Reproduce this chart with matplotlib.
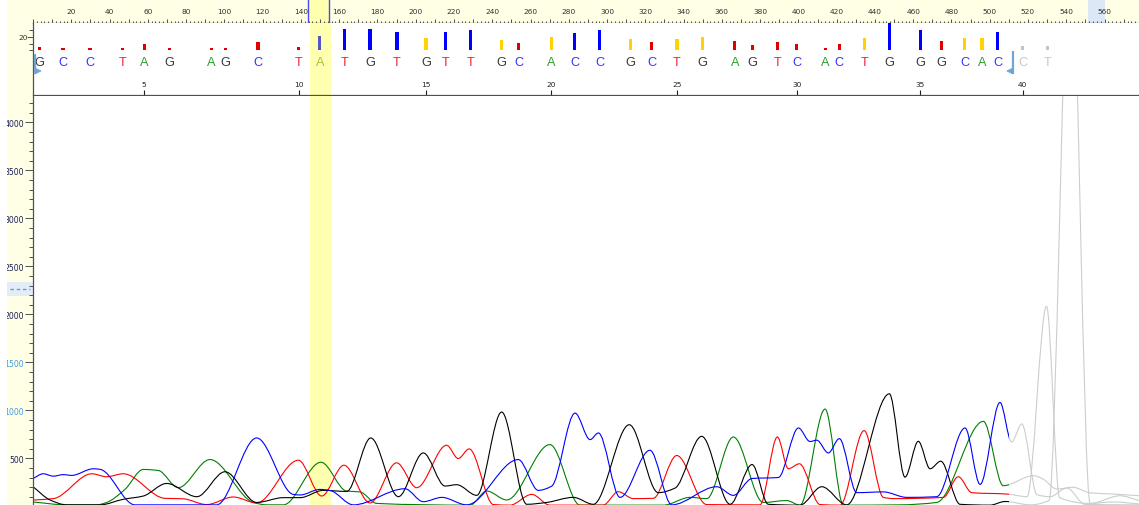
import numpy as np
import matplotlib
matplotlib.use("Agg")
import matplotlib.pyplot as plt
from matplotlib.path import Path
from matplotlib.patches import PathPatch, Rectangle, Polygon
from matplotlib.transforms import blended_transform_factory
from matplotlib.lines import Line2D

# ---------------- data ----------------
# base calls: letter, position (scan number), quality value
bases = list("GCCTAGAGCTATGTGTTGCACCGCTGAGTCACTGGGCACCT")
base_scan = [4, 16, 30, 47, 58, 71, 93, 100, 117, 138, 149, 162, 175, 189, 204,
             214, 227, 243, 252, 269, 281, 294, 310, 321, 334, 347, 364, 373,
             386, 396, 411, 418, 431, 444, 460, 471, 483, 492, 500, 513, 526]
base_qv = [5, 4, 4, 3, 9, 4, 4, 4, 12, 5, 22, 32, 32, 27, 19, 28, 30, 15, 11,
           20, 26, 31, 17, 13, 17, 20, 14, 8, 13, 10, 4, 9, 18, 41, 30, 14, 18,
           18, 27, 6, 6]
index_labels = [5, 10, 15, 20, 25, 30, 35, 40]
ruler_labels = list(range(20, 580, 20))
signal_ticks = [500, 1000, 1500, 2000, 2500, 3000, 3500, 4000]
qv_ticks = [0, 10, 20, 30]
qv_labels = {20: "20"}

selected_base = 10          # highlighted base (0-based)
highlight_scan = (143.9, 154.8)
clear_start = 1.5
clear_end = 506.0

# trace extrema (scan number, signal)
green_scan = [0.5, 17.9, 33.5, 38.6, 48.1, 57.6, 65.4, 75.7, 92.1, 114.6, 121.5,
              130.1, 149.6, 162.9, 169.8, 178.5, 226.8, 235.5, 245.8, 268.2,
              283.8, 326.9, 340.8, 349.4, 363.2, 378.7, 390.8, 397.7, 410.7,
              420.2, 449.5, 468.5, 492.7, 503.0, 518.6, 523.6, 530.7, 539.1,
              548.0, 559.8, 573.3]
green_signal = [45, 15, 15, 40, 176, 384, 373, 194, 487, 40, 15, 15, 459, 159,
                150, 30, 12, 159, 66, 643, 12, 12, 93, 80, 722, 40, 60, 12, 1013,
                12, 15, 40, 885, 215, 319, 284, 180, 198, 140, 128, 110]

blue_scan = [0.5, 5.8, 11.0, 16.2, 20.5, 31.7, 35.2, 53.3, 95.6, 116.3, 135.3,
             138.8, 149.1, 154.3, 166.4, 193.1, 202.6, 212.2, 225.1, 251.8,
             262.2, 269.1, 281.2, 289.0, 293.3, 304.5, 320.0, 331.3, 354.6,
             363.2, 372.9, 386.5, 396.9, 402.9, 406.4, 412.4, 418.1, 427.1,
             440.9, 453.0, 468.5, 483.2, 491.0, 501.3, 507.3, 512.6, 520.5,
             527.2, 536.0, 545.3, 573.3]
blue_signal = [290, 339, 314, 330, 322, 391, 385, 15, 15, 712, 124, 118, 176,
               165, 15, 183, 48, 93, 15, 487, 166, 210, 971, 695, 764, 93, 584,
               15, 204, 114, 290, 300, 816, 675, 689, 556, 705, 142, 150, 93,
               100, 816, 228, 1082, 670, 858, 120, 100, 190, 20, 15]

black_scan = [0.5, 9.3, 17.9, 35.2, 47.2, 57.6, 69.7, 85.3, 99.9, 116.3, 130.1,
              138.8, 150.8, 163.0, 175.4, 189.7, 202.6, 213.9, 219.9, 230.3,
              243.2, 256.2, 266.5, 280.3, 290.7, 309.3, 324.3, 333.0, 346.8,
              361.5, 372.9, 381.3, 397.7, 409.0, 421.9, 444.0, 452.1, 459.0,
              465.1, 470.6, 480.6, 496.1, 503.9, 516.9, 526.7, 537.8, 548.0,
              563.5, 573.3]
black_signal = [204, 66, 15, 15, 73, 107, 238, 100, 360, 40, 90, 90, 166, 155,
                712, 100, 556, 211, 225, 114, 982, 21, 40, 93, 21, 850, 142, 190,
                729, 21, 435, 21, 12, 204, 15, 1172, 304, 677, 391, 470, 21, 12,
                50, 15, 60, 6000, 30, 110, 60]

red_scan = [0.5, 11.0, 30.9, 38.6, 47.2, 68.8, 78.3, 90.4, 104.2, 116.3, 137.9,
            150.0, 161.5, 175.0, 188.8, 199.2, 214.7, 220.7, 226.4, 238.9,
            247.5, 258.8, 268.2, 295.7, 303.6, 311.4, 321.7, 333.9, 349.4,
            377.0, 386.0, 391.7, 397.4, 408.1, 418.5, 430.9, 440.9, 446.1,
            472.0, 479.7, 486.7, 504.8, 515.3, 525.4, 532.2, 548.0, 560.0,
            573.3]
red_signal = [65, 80, 339, 308, 339, 83, 78, 18, 97, 35, 480, 107, 428, 35, 453,
              194, 636, 498, 598, 18, 12, 124, 12, 12, 152, 80, 83, 529, 18, 15,
              722, 391, 443, 18, 12, 788, 93, 80, 93, 308, 142, 128, 100, 2084,
              90, 30, 45, 25]

# ---------------- layout ----------------
W, H = 1139, 506
X_LIM = (0.47, 573.3)
Y_LIM = (0, 4280)
QV_LIM = (-67.9, 41.2)
YELLOW = "#FFFFE6"
HILITE = "#FFFFB0"
AXCOL = "#505050"
NUMFONT = "DejaVu Sans"
LETFONT = "Liberation Sans"


def fx(px):
    return px / W


def fy(py):
    return 1 - py / H


def axes_rect(top, bottom, left=33, right=W):
    return [fx(left), fy(bottom), (right - left) / W, (bottom - top) / H]


fig = plt.figure(figsize=(W / 100, H / 100), dpi=100, facecolor="white")

# yellow left margin, threshold marker box
fig.add_artist(Rectangle((fx(7), 0), fx(33) - fx(7), 1, transform=fig.transFigure,
                         facecolor=YELLOW, edgecolor="none", zorder=-1))
fig.add_artist(Rectangle((fx(7), fy(296.7)), fx(33) - fx(7), (296.7 - 282.7) / H,
                         transform=fig.transFigure, facecolor="#E2EDF7",
                         edgecolor="none", zorder=-0.5))
fig.add_artist(Line2D([fx(10), fx(30)], [fy(290), fy(290)], transform=fig.transFigure,
                      color="#5A9EE6", lw=1.0, dashes=(2.5, 2), zorder=-0.4))

# ---------------- ruler ----------------
axr = fig.add_axes(axes_rect(0, 24))
axr.set_facecolor(YELLOW)
axr.set_xlim(*X_LIM)
axr.set_ylim(0, 1)
for s in ["top", "left", "right"]:
    axr.spines[s].set_visible(False)
axr.spines["bottom"].set_color(AXCOL)
axr.spines["bottom"].set_linewidth(0.9)
axr.set_xticks(np.arange(0, 580, 10))
axr.set_xticks(np.arange(0, 580, 2), minor=True)
axr.tick_params(axis="x", which="major", direction="in", length=3.2, width=0.7,
                color=AXCOL, labelbottom=False)
axr.tick_params(axis="x", which="minor", direction="in", length=1.6, width=0.7,
                color=AXCOL)
axr.set_yticks([])
axr.axvspan(*highlight_scan, color=HILITE, lw=0, zorder=0)
axr.axvspan(551.5, 560.0, color="#DCE8F6", lw=0, zorder=0.2)
for s in highlight_scan:
    axr.axvline(s, color="#4A4AF0", lw=1.0, zorder=1)
tr_r = blended_transform_factory(axr.transData, axr.transAxes)
for v in ruler_labels:
    axr.text(v, 0.5, str(v), transform=tr_r, ha="center", va="center",
             fontsize=5.3, family=NUMFONT, color="#303030", zorder=3)

# ---------------- base calls ----------------
axb = fig.add_axes(axes_rect(24, 96))
axb.set_facecolor("white")
axb.set_xlim(*X_LIM)
axb.set_ylim(*QV_LIM)
for s in ["top", "right"]:
    axb.spines[s].set_visible(False)
for s in ["left", "bottom"]:
    axb.spines[s].set_color(AXCOL)
    axb.spines[s].set_linewidth(0.9)
axb.axvspan(*highlight_scan, color=HILITE, lw=0, zorder=0)

bar_colors = []
for i, (s, q) in enumerate(zip(base_scan, base_qv)):
    if s > clear_end:
        bar_colors.append("#C4C4C4")
    elif i == selected_base:
        bar_colors.append("#5555C8")
    elif q < 15:
        bar_colors.append("#E00000")
    elif q < 25:
        bar_colors.append("#FFD200")
    else:
        bar_colors.append("#0000FF")
axb.bar(base_scan, base_qv, width=1.6, bottom=0, color=bar_colors, lw=0, zorder=2)

letter_colors = {"A": "#2E9E2E", "C": "#3535F5", "G": "#383838", "T": "#F02040"}
tr_b = blended_transform_factory(axb.transData, axb.transAxes)
for i, (b, s) in enumerate(zip(bases, base_scan)):
    if s > clear_end:
        c = "#C8C8C8"
    elif i == selected_base:
        c = "#A8C040"
    else:
        c = letter_colors[b]
    axb.text(s, (96 - 63) / 72, b, transform=tr_b, ha="center", va="center",
             fontsize=9.2, family=LETFONT, color=c, zorder=3)

idx_pos = [base_scan[n - 1] for n in index_labels]
for n, s in zip(index_labels, idx_pos):
    axb.text(s, (96 - 85) / 72, str(n), transform=tr_b, ha="center", va="center",
             fontsize=5.3, family=NUMFONT, color="#202020", zorder=3)
axb.set_xticks(idx_pos)
axb.tick_params(axis="x", direction="in", length=3.8, width=0.8, color="#202020",
                labelbottom=False)
axb.set_yticks(qv_ticks)
axb.set_yticklabels([qv_labels.get(t, "") for t in qv_ticks])
axb.tick_params(axis="y", length=2.8, width=0.7, color=AXCOL, pad=1.0,
                labelsize=5.3, labelcolor="#303030")
for t, tk in zip(qv_ticks, axb.yaxis.get_major_ticks()):
    if t in qv_labels:
        tk.tick1line.set_markersize(4.5)
for lbl in axb.get_yticklabels():
    lbl.set_family(NUMFONT)

# clear-range markers
mk = "#6FA6D8"
axb.plot([clear_start, clear_start], [(96 - 55) / 72, (96 - 75) / 72], transform=tr_b,
         color=mk, lw=1.6, zorder=4, solid_capstyle="butt")
axb.add_patch(Polygon([(clear_start, (96 - 69) / 72), (clear_start + 3.2, (96 - 72) / 72),
                       (clear_start, (96 - 75) / 72)], closed=True, transform=tr_b,
                      facecolor=mk, edgecolor=mk, lw=0.5, zorder=4))
axb.plot([clear_end + 2, clear_end + 2], [(96 - 52) / 72, (96 - 75) / 72],
         transform=tr_b, color=mk, lw=1.6, zorder=4, solid_capstyle="butt")
axb.add_patch(Polygon([(clear_end + 2, (96 - 69) / 72), (clear_end - 1.2, (96 - 72) / 72),
                       (clear_end + 2, (96 - 75) / 72)], closed=True, transform=tr_b,
                      facecolor=mk, edgecolor=mk, lw=0.5, zorder=4))

# ---------------- traces ----------------
axm = fig.add_axes(axes_rect(96.5, 507.3))
axm.set_facecolor("white")
axm.set_xlim(*X_LIM)
axm.set_ylim(*Y_LIM)
for s in ["top", "right", "bottom"]:
    axm.spines[s].set_visible(False)
axm.spines["left"].set_color(AXCOL)
axm.spines["left"].set_linewidth(0.9)
axm.set_xticks([])
axm.set_yticks(signal_ticks)
axm.set_yticks(np.arange(100, 4300, 100), minor=True)
axm.tick_params(axis="y", which="major", length=5.8, width=0.7, color=AXCOL,
                pad=0.8, labelsize=5.6)
axm.tick_params(axis="y", which="minor", length=2.9, width=0.7, color=AXCOL)
for lbl, t in zip(axm.get_yticklabels(), signal_ticks):
    lbl.set_family(NUMFONT)
    lbl.set_color("#3C9CE4" if t in (1000, 1500) else "#1C1E58")
axm.axvspan(*highlight_scan, color=HILITE, lw=0, zorder=0.5)


def smooth_path(xs, ys):
    x = np.asarray(xs, float)
    y = np.asarray(ys, float)
    h = np.diff(x)
    d = np.diff(y) / h
    m = np.zeros_like(x)
    for k in range(1, len(x) - 1):
        if d[k - 1] * d[k] > 0:
            w1 = 2 * h[k] + h[k - 1]
            w2 = h[k] + 2 * h[k - 1]
            m[k] = (w1 + w2) / (w1 / d[k - 1] + w2 / d[k])
    m[0] = d[0]
    m[-1] = d[-1]
    verts = [(x[0], y[0])]
    codes = [Path.MOVETO]
    for k in range(len(x) - 1):
        verts += [(x[k] + h[k] / 3, y[k] + m[k] * h[k] / 3),
                  (x[k + 1] - h[k] / 3, y[k + 1] - m[k + 1] * h[k] / 3),
                  (x[k + 1], y[k + 1])]
        codes += [Path.CURVE4] * 3
    return Path(verts, codes)


channels = [(green_scan, green_signal, "#008000"),
            (red_scan, red_signal, "#FF0000"),
            (black_scan, black_signal, "#000000"),
            (blue_scan, blue_signal, "#0000FF")]
for xs, ys, col in channels:
    p = smooth_path(xs, ys)
    colored = axm.add_patch(PathPatch(p, facecolor="none", edgecolor=col, lw=0.8,
                                      zorder=2))
    colored.set_clip_path(Rectangle((X_LIM[0], Y_LIM[0]), clear_end - X_LIM[0],
                                    Y_LIM[1] - Y_LIM[0], transform=axm.transData))
    gray = axm.add_patch(PathPatch(p, facecolor="none", edgecolor="#CDCDCD", lw=0.8,
                                   zorder=1.5))
    gray.set_clip_path(Rectangle((clear_end, Y_LIM[0]), X_LIM[1] - clear_end,
                                 Y_LIM[1] - Y_LIM[0], transform=axm.transData))

# white window border on the far left (cuts part of the first label digit)
fig.add_artist(Rectangle((0, 0), fx(7), 1, transform=fig.transFigure,
                         facecolor="white", edgecolor="none", zorder=10))

fig.savefig("out.png", dpi=100)
